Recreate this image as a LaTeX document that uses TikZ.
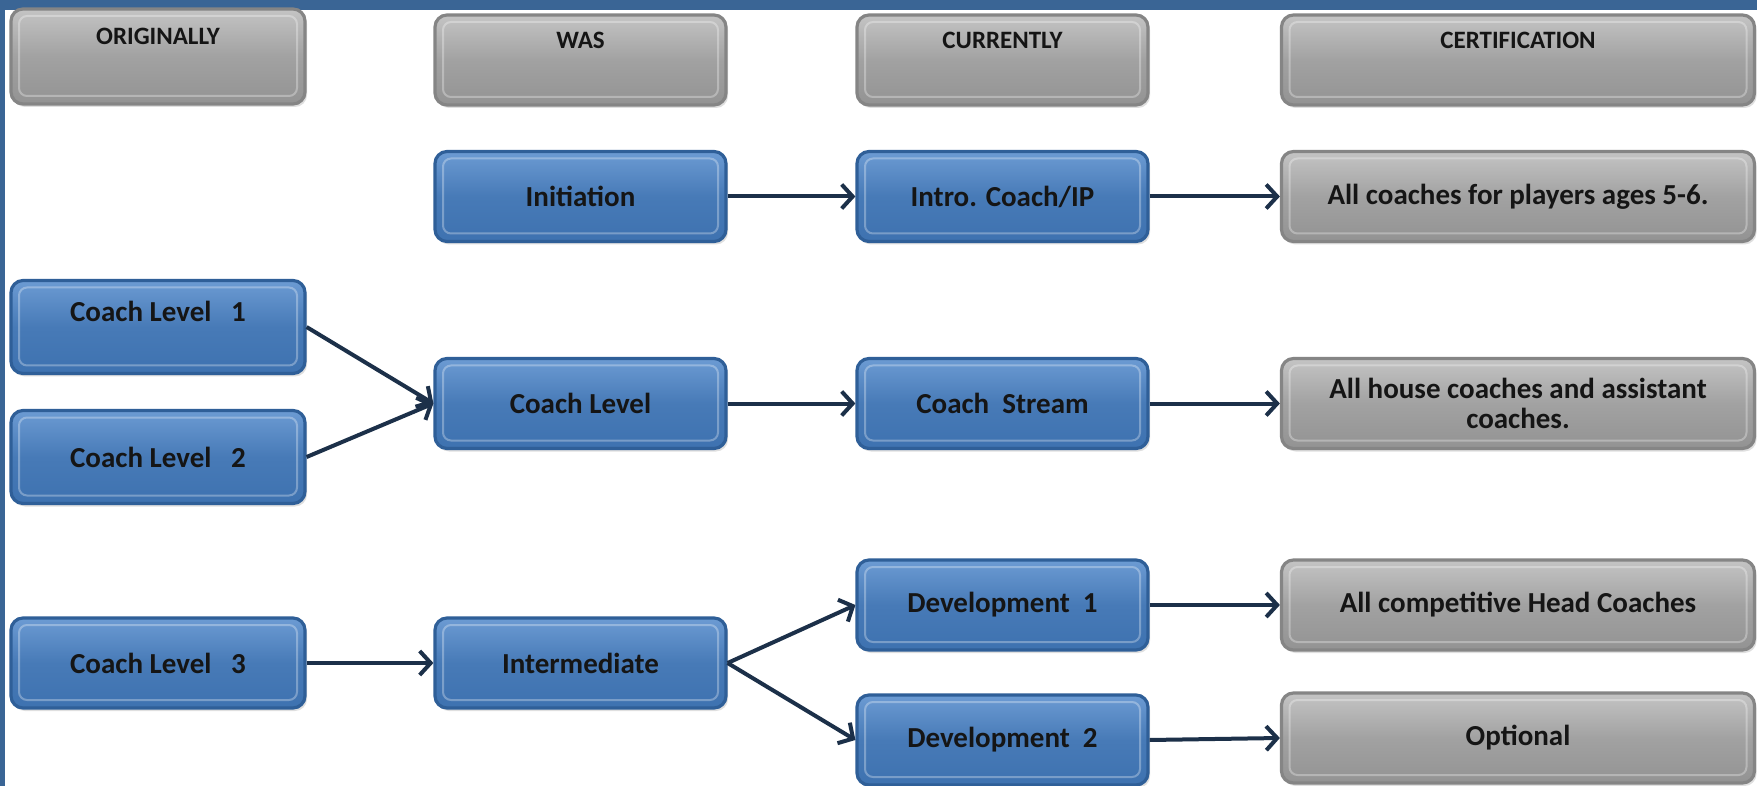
\documentclass[tikz,border=0pt]{standalone}
\usepackage{fontspec}
\setmainfont{Carlito}
\usetikzlibrary{arrows.meta,shadows}
\definecolor{framec}{HTML}{3A6595}
\definecolor{bluetop}{HTML}{6C9BD3}
\definecolor{bluebot}{HTML}{3E72B0}
\definecolor{blueedge}{HTML}{2F5F98}
\definecolor{graytop}{HTML}{C4C4C4}
\definecolor{graybot}{HTML}{939393}
\definecolor{grayedge}{HTML}{858585}
\definecolor{arrowc}{HTML}{1C3049}
\definecolor{txt}{HTML}{151515}
\newcommand{\lift}[2]{\raisebox{#1}[\height][\depth]{#2}}
\tikzset{
  basebox/.style={rounded corners=6pt, line width=1.6pt, font=\bfseries\fontsize{14.5}{16}\selectfont,
    text=txt, align=center, inner sep=2pt, minimum height=45pt,
    drop shadow={opacity=0.25, shadow xshift=1pt, shadow yshift=-1.5pt},
    path picture={\draw[white, opacity=0.3, line width=1pt, rounded corners=4pt]
      ([shift={(4pt,-3.5pt)}]path picture bounding box.north west) rectangle
      ([shift={(-4pt,4pt)}]path picture bounding box.south east);}},
  bluebox/.style={basebox, draw=blueedge, top color=bluetop, bottom color=bluebot, middle color=bluebot!80!bluetop},
  graybox/.style={basebox, draw=grayedge, top color=graytop, bottom color=graybot, middle color=graybot!70!graytop},
  headbox/.style={graybox, font=\bfseries\fontsize{12.5}{15}\selectfont},
  wa/.style={minimum width=147pt},
  wb/.style={minimum width=145.5pt},
  wc/.style={minimum width=236.5pt},
  conn/.style={draw=arrowc, line width=2pt, -{Straight Barb[length=5.5pt,width=12pt]}}
}
\begin{document}
\begin{tikzpicture}[x=0.5pt,y=-0.5pt]
\useasboundingbox (0,0) rectangle (1757,786);
\fill[white] (0,0) rectangle (1757,786);
\fill[framec] (0,0) rectangle (1757,10);
\fill[framec] (0,0) rectangle (5,786);
% headers
\node[headbox,wa,minimum height=47.5pt] (h1) at (158,56.5) {\lift{10pt}{ORIGINALLY}};
\node[headbox,wb] (h2) at (580.5,60) {\lift{10pt}{WAS}};
\node[headbox,wb] (h3) at (1002.5,60) {\lift{10pt}{CURRENTLY}};
\node[headbox,wc] (h4) at (1518,60) {\lift{10pt}{CERTIFICATION}};
% row 1
\node[bluebox,wb] (init) at (580.5,196.5) {Initiation};
\node[bluebox,wb] (intro) at (1002.5,196.5) {Intro. Coach/IP};
\node[graybox,wc] (c1) at (1518,196.5) {All coaches for players ages 5-6.};
% row 2
\node[bluebox,wa,minimum height=46.5pt] (cl1) at (158,327) {\lift{8pt}{Coach Level\ \ \ 1}};
\node[bluebox,wa,minimum height=46.5pt] (cl2) at (158,457) {Coach Level\ \ \ 2};
\node[bluebox,wb] (cl) at (580.5,403.5) {Coach Level};
\node[bluebox,wb] (stream) at (1002.5,403.5) {Coach\ \ Stream};
\node[graybox,wc] (c2) at (1518,403.5) {All house coaches and assistant\\[-1pt]coaches.};
% row 3
\node[bluebox,wa] (cl3) at (158,663) {Coach Level\ \ \ 3};
\node[bluebox,wb] (inter) at (580.5,663) {Intermediate};
\node[bluebox,wb] (dev1) at (1002.5,605) {Development\ \ 1};
\node[bluebox,wb] (dev2) at (1002.5,740) {Development\ \ 2};
\node[graybox,wc] (c3) at (1518,605) {All competitive Head Coaches};
\node[graybox,wc] (c4) at (1518,738) {Optional};
% connectors
\draw[conn] (init) -- (intro);
\draw[conn] (intro) -- (c1);
\draw[conn] (cl1.east) -- (cl.west);
\draw[conn] (cl2.east) -- (cl.west);
\draw[conn] (cl) -- (stream);
\draw[conn] (stream) -- (c2);
\draw[conn] (cl3) -- (inter);
\draw[conn] (inter.east) -- (dev1.west);
\draw[conn] (inter.east) -- (dev2.west);
\draw[conn] (dev1) -- (c3);
\draw[conn] (dev2.east) -- (c4.west);
\end{tikzpicture}
\end{document}
